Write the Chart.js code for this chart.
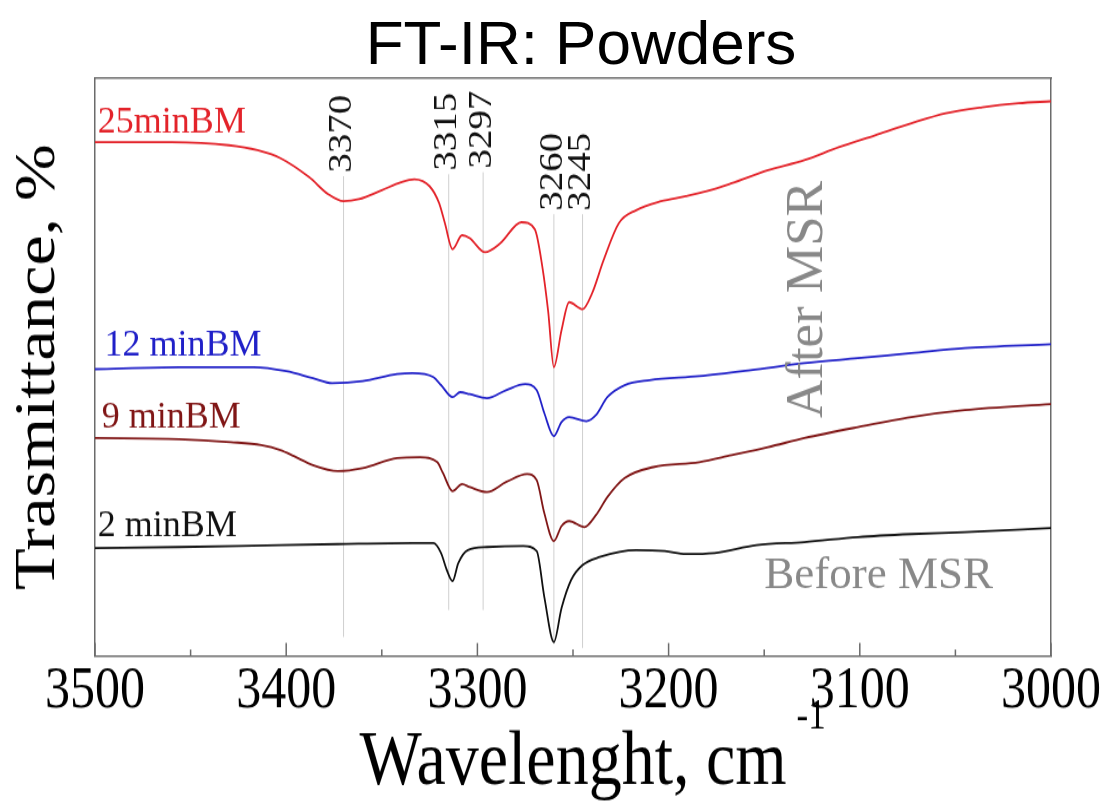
<!DOCTYPE html>
<html>
<head>
<meta charset="utf-8">
<title>FT-IR: Powders</title>
<script src="https://cdn.jsdelivr.net/npm/chart.js@4.4.1/dist/chart.umd.min.js"></script>
<style>
  html, body { margin: 0; padding: 0; background: #fff; width: 1104px; height: 803px; overflow: hidden; }
  #title {
    position: absolute; left: 581px; top: 12px; transform: translateX(-50%);
    font-family: "Liberation Sans", Arial, sans-serif; font-size: 62px; line-height: 62px;
    white-space: nowrap; color: #000;
  }
  /* the figure in the reference is stretched vertically */
  #wrap { position: absolute; left: 0; top: 70px; width: 1104px; height: 621px; transform: scaleY(1.18); transform-origin: 0 0; }
  #chart { display: block; }
</style>
</head>
<body>
<div id="title">FT-IR: Powders</div>
<div id="wrap"><canvas id="chart" width="1104" height="621"></canvas></div>
<script>
// wavenumbers (cm-1) and transmittance (arbitrary units, offset traces)
const wn25 = [3500,3460,3430,3415,3403,3388,3378,3370,3362,3350,3340,3333,3325,3320,3317,3313,3308,3304,3296,3288,3277,3270,3266,3263,3260,3256,3252,3245,3240,3234,3226,3217,3204,3191,3180,3167,3148,3129,3111,3092,3073,3055,3036,3017,3000];
const t25  = [514,514,511,506,498,479,462,455,457,466,474,477,470,453,433,407,421,418,404,413,434,427,389,345,289,326,354,347,363,396,433,446,455,460,465,473,486,496,509,521,533,543,549,553,555];

const wn12 = [3500,3456,3417,3400,3386,3376,3360,3342,3334,3323,3319,3313,3309,3304,3295,3285,3275,3269,3265,3260,3256,3252,3243,3238,3232,3223,3210,3184,3157,3129,3101,3073,3045,3000];
const t12  = [287,289,289,285,278,273,275,282,283,279,271,259,264,262,258,266,272,266,243,220,234,239,235,241,259,271,276,280,286,293,298,303,308,312];

const wn9 = [3500,3456,3429,3413,3403,3396,3386,3373,3360,3342,3330,3321,3318,3313,3308,3304,3295,3285,3274,3269,3265,3260,3256,3252,3244,3238,3232,3223,3208,3184,3167,3148,3129,3101,3073,3045,3000];
const t9  = [218,217,214,211,206,200,191,185,188,198,199,194,183,165,172,169,164,174,182,176,143,115,130,135,129,141,159,178,189,194,201,209,218,229,239,246,252];

const wn2 = [3500,3456,3403,3373,3334,3323,3319,3316,3313,3310,3305,3295,3276,3269,3265,3260,3256,3251,3245,3236,3217,3202,3191,3176,3154,3129,3101,3073,3045,3000];
const t2  = [108,109,111,112,113,113,103,86,75,93,106,109,110,105,59,14,48,76,91,99,106,105,102,103,111,114,119,122,124,128];

// marked band positions and the span of their guide lines
const peakPos  = [3370, 3315, 3297, 3260, 3245];
const peakLow  = [19, 46, 46, 12, 8];
const peakHigh = [480, 482, 484, 442, 442];

const seriesNames = ["25minBM", "12 minBM", "9 minBM", "2 minBM"];

const S = 1.18;           // vertical stretch of the figure
const AXIS = "#6b6b6b";
const SERIF = '"Liberation Serif", "Times New Roman", serif';
const colors = ["#e3232a", "#2020c8", "#801616", "#111111"];

// where the free texts sit (data coordinates)
const nameAt = [[3498.5, 524], [3495, 301], [3496.5, 229], [3498.5, 120]];

function pts(xs, ys) {
  return xs.map((v, i) => ({ x: v, y: ys[i] }));
}

function flatText(ctx, txt, px, py, rot) {
  // undo the stretch for texts that were not stretched in the reference
  ctx.save();
  ctx.translate(px, py);
  ctx.scale(1, 1 / S);
  if (rot) ctx.rotate(rot);
  ctx.fillText(txt, 0, 0);
  ctx.restore();
}

const annotate = {
  id: "annotate",
  afterDraw(chart) {
    const { ctx, scales: { x, y } } = chart;
    ctx.save();

    // inward ticks on the bottom axis
    ctx.strokeStyle = AXIS;
    ctx.lineWidth = 1.5;
    x.ticks.forEach(t => {
      const px = x.getPixelForValue(t.value);
      const len = t.value % 100 === 0 ? 11 : 5.5;
      ctx.beginPath();
      ctx.moveTo(px, y.bottom);
      ctx.lineTo(px, y.bottom - len);
      ctx.stroke();
    });

    // band labels
    ctx.fillStyle = "#111";
    ctx.font = "33px " + SERIF;
    ctx.textAlign = "left";
    ctx.textBaseline = "middle";
    peakPos.forEach((p, i) => {
      ctx.save();
      ctx.translate(x.getPixelForValue(p) - 1, y.getPixelForValue(peakHigh[i]) - 3);
      ctx.rotate(-Math.PI / 2);
      ctx.fillText(String(p), 0, 0);
      ctx.restore();
    });

    // series names
    ctx.font = "36px " + SERIF;
    ctx.textBaseline = "alphabetic";
    seriesNames.forEach((n, i) => {
      ctx.fillStyle = colors[i];
      flatText(ctx, n, x.getPixelForValue(nameAt[i][0]), y.getPixelForValue(nameAt[i][1]));
    });

    // before / after
    ctx.fillStyle = "#888888";
    ctx.font = "45px " + SERIF;
    flatText(ctx, "Before MSR", x.getPixelForValue(3150), y.getPixelForValue(68));
    ctx.font = "53px " + SERIF;
    ctx.textBaseline = "middle";
    flatText(ctx, "After MSR", x.getPixelForValue(3127), y.getPixelForValue(238), -Math.PI / 2);

    // superscript of the x title
    ctx.fillStyle = "#000";
    ctx.font = "66px " + SERIF;
    const w = ctx.measureText("Wavelenght, cm").width;
    ctx.font = "35px " + SERIF;
    ctx.textAlign = "left";
    ctx.textBaseline = "alphabetic";
    ctx.fillText("-1", (x.left + x.right) / 2 + w / 2 + 10, x.bottom - 63);

    ctx.restore();
  }
};

const curves = [pts(wn25, t25), pts(wn12, t12), pts(wn9, t9), pts(wn2, t2)].map((d, i) => ({
  label: seriesNames[i],
  data: d,
  borderColor: colors[i],
  borderWidth: 1.8,
  pointRadius: 0,
  cubicInterpolationMode: "monotone",
  order: 0
}));

const guides = peakPos.map((p, i) => ({
  label: "band " + p,
  data: [{ x: p, y: peakLow[i] }, { x: p, y: peakHigh[i] }],
  borderColor: "#cfcfcf",
  borderWidth: 1,
  pointRadius: 0,
  order: 1
}));

const noTicks = { display: false };
const noGrid = { display: false, drawTicks: false };
const frame = { display: true, color: AXIS, width: 1.5 };

new Chart(document.getElementById("chart"), {
  type: "line",
  data: { datasets: curves.concat(guides) },
  options: {
    responsive: false,
    animation: false,
    devicePixelRatio: 1,
    layout: { padding: 0 },
    plugins: { legend: { display: false }, tooltip: { enabled: false } },
    scales: {
      x: {
        type: "linear", position: "bottom", min: 3000, max: 3500, reverse: true,
        ticks: {
          stepSize: 50, autoSkip: false, maxRotation: 0, padding: 0, color: "#000",
          font: { family: SERIF, size: 50 },
          callback: v => (v % 100 === 0 ? String(v) : "")
        },
        grid: noGrid,
        border: frame,
        title: {
          display: true, text: "Wavelenght, cm", color: "#000",
          font: { family: SERIF, size: 66, lineHeight: 1 }, padding: { top: 0, bottom: 0 }
        },
        afterFit: s => { s.height = 124.4; }
      },
      x2: {
        type: "linear", position: "top", min: 3000, max: 3500,
        ticks: noTicks, grid: noGrid, border: frame,
        afterFit: s => { s.height = 7; }
      },
      y: {
        type: "linear", position: "left", min: 0, max: 578,
        ticks: noTicks, grid: noGrid, border: frame,
        title: {
          display: true, text: "Trasmittance, %", color: "#000",
          font: { family: SERIF, size: 58, lineHeight: 1.2 }, padding: { top: 4, bottom: 0 }
        },
        afterFit: s => { s.width = 95; }
      },
      y2: {
        type: "linear", position: "right", min: 0, max: 578,
        ticks: noTicks, grid: noGrid, border: frame,
        afterFit: s => { s.width = 53; }
      }
    }
  },
  plugins: [annotate]
});
</script>
</body>
</html>
